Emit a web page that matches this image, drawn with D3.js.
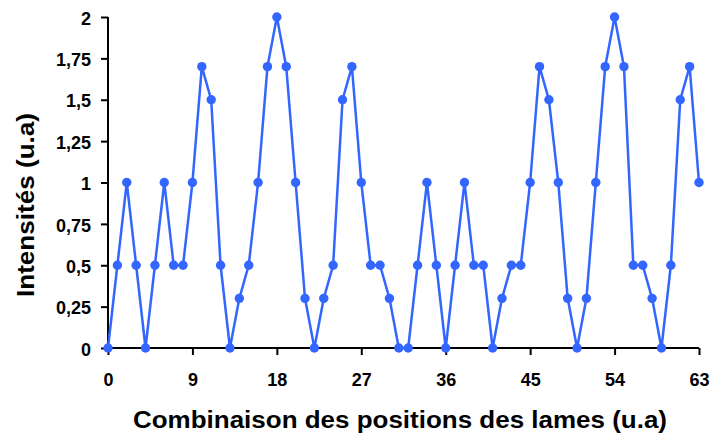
<!DOCTYPE html>
<html>
<head>
<meta charset="utf-8">
<script src="https://cdn.jsdelivr.net/npm/d3@7"></script>
<style>
html,body{margin:0;padding:0;background:#fff;}
svg{display:block;}
text{font-family:Arial,"Liberation Sans",sans-serif;font-weight:bold;fill:#000;}
</style>
</head>
<body>
<svg id="chart" width="712" height="437"></svg>
<script>
const positions = d3.range(0, 64);
const intensities = [0,0.5,1,0.5,0,0.5,1,0.5,0.5,1,1.7,1.5,0.5,0,0.3,0.5,1,1.7,2,1.7,1,0.3,0,0.3,0.5,1.5,1.7,1,0.5,0.5,0.3,0,0,0.5,1,0.5,0,0.5,1,0.5,0.5,0,0.3,0.5,0.5,1,1.7,1.5,1,0.3,0,0.3,1,1.7,2,1.7,0.5,0.5,0.3,0,0.5,1.5,1.7,1];
const xTicks = [0,9,18,27,36,45,54,63];
const yTicks = [0,0.25,0.5,0.75,1,1.25,1.5,1.75,2];
const yTickLabels = ["0","0,25","0,5","0,75","1","1,25","1,5","1,75","2"];
const xTitle = "Combinaison des positions des lames (u.a)";
const yTitle = "Intensités (u.a)";

const svg = d3.select("#chart");
const x = d3.scaleLinear().domain([0,63]).range([108,699]);
const y = d3.scaleLinear().domain([0,2]).range([348,17]);
const color = "#3366FF";
const FONT = "Arial, 'Liberation Sans', sans-serif";

// Y axis
const yAxis = svg.append("g").attr("transform","translate(108,0)")
  .call(d3.axisLeft(y).tickValues(yTicks).tickSize(7).tickPadding(10)
    .tickFormat((d,i)=>yTickLabels[i]));
yAxis.selectAll("path,line").attr("stroke","#000").attr("stroke-width",2);
yAxis.select(".domain").attr("d","M0,"+y(2)+"V"+y(0));
yAxis.selectAll("text").attr("font-size","18px").attr("dy","0.4em")
  .style("font-family",FONT).style("font-weight","bold");

// X axis
const xAxis = svg.append("g").attr("transform","translate(0,348)")
  .call(d3.axisBottom(x).tickValues(xTicks).tickSize(7).tickPadding(18));
xAxis.selectAll("path,line").attr("stroke","#000").attr("stroke-width",2);
xAxis.select(".domain").attr("d","M"+x(0)+",0H"+x(63));
xAxis.selectAll("text").attr("font-size","18px")
  .style("font-family",FONT).style("font-weight","bold");

// Line
const data = positions.map((p,i)=>({p, v: intensities[i]}));
svg.append("path").datum(data)
  .attr("fill","none").attr("stroke",color).attr("stroke-width",2.5)
  .attr("stroke-linejoin","round")
  .attr("d", d3.line().x(d=>x(d.p)).y(d=>y(d.v)));

svg.append("g").selectAll("circle").data(data).join("circle")
  .attr("cx",d=>x(d.p)).attr("cy",d=>y(d.v)).attr("r",4.7).attr("fill",color);

// Titles
svg.append("text").attr("x",400).attr("y",428).attr("text-anchor","middle")
  .attr("font-size","23px").attr("textLength",534).attr("lengthAdjust","spacingAndGlyphs")
  .text(xTitle);
svg.append("text").attr("transform","translate(34,205) rotate(-90)").attr("text-anchor","middle")
  .attr("font-size","23px").attr("textLength",184).attr("lengthAdjust","spacingAndGlyphs")
  .text(yTitle);
</script>
</body>
</html>
